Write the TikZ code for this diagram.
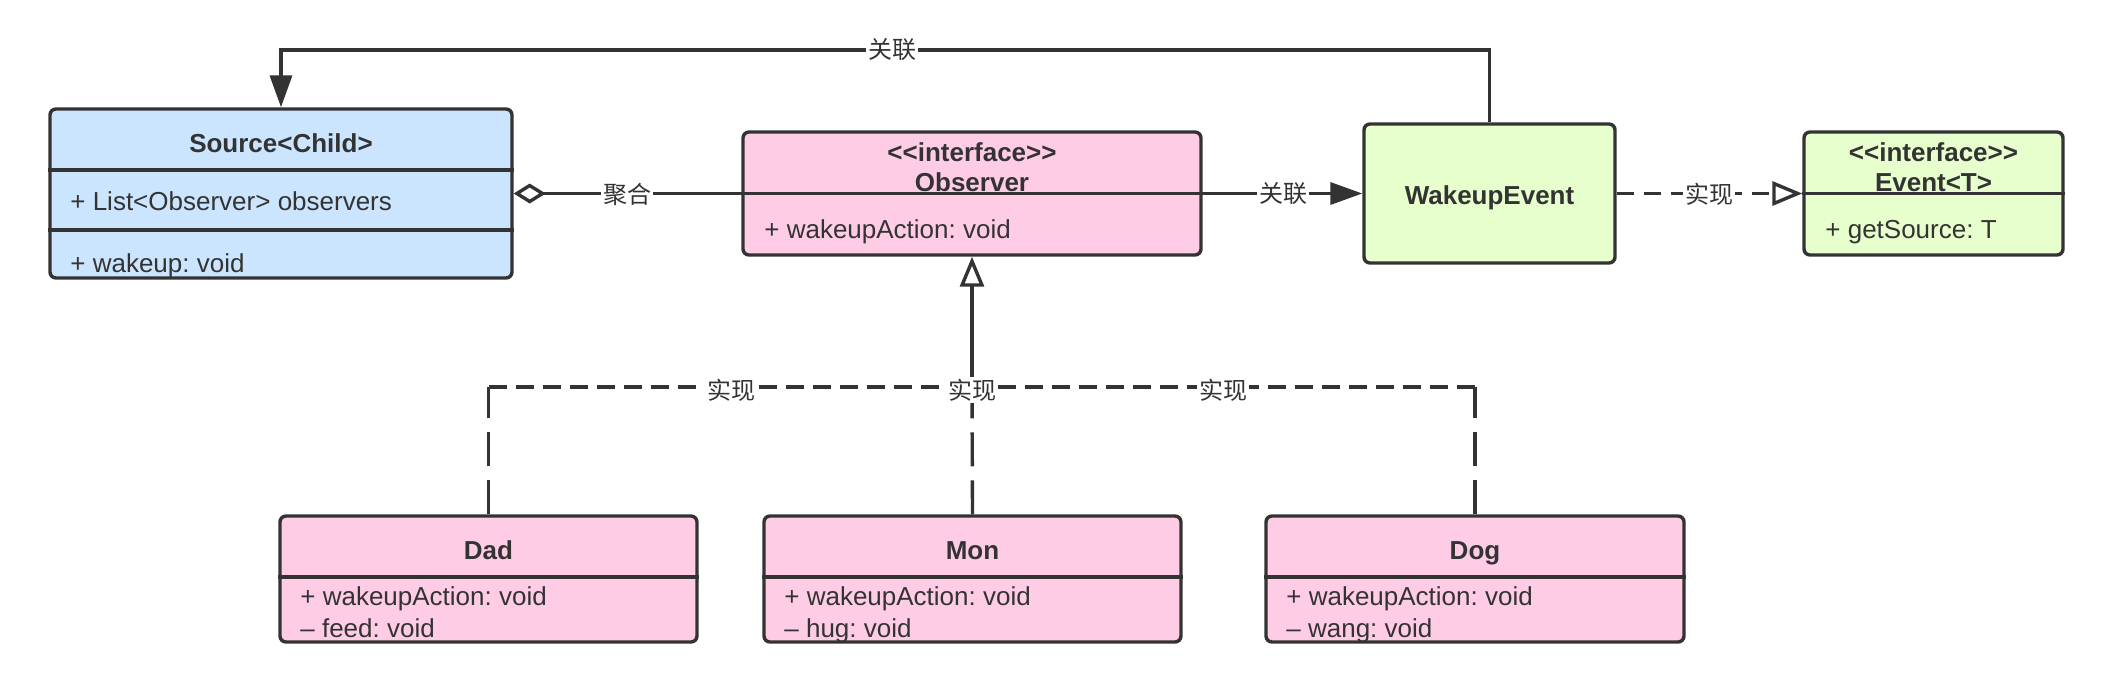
\documentclass[tikz,border=0pt]{standalone}
\usepackage{fontspec}
\setmainfont{Liberation Sans}
\newfontfamily\cjk{Noto Sans CJK SC}
\usetikzlibrary{arrows.meta}
\definecolor{ln}{HTML}{333333}
\definecolor{cblue}{HTML}{CCE5FF}
\definecolor{cpink}{HTML}{FFCCE6}
\definecolor{cgreen}{HTML}{E6FFCC}
\frenchspacing
\begin{document}
\begin{tikzpicture}[x=0.5pt,y=-0.5pt,
  cls/.style={draw=ln, line width=1.7pt, rounded corners=3pt, inner sep=0pt},
  tt/.style={font=\fontsize{13}{15.6}\selectfont\bfseries, text=ln, inner sep=0pt, text height=9.4pt, text depth=2.7pt},
  attr/.style={font=\fontsize{13}{15.6}\selectfont, text=ln, inner sep=0pt, anchor=west, text height=9.4pt, text depth=2.7pt},
  lbl/.style={font=\cjk\fontsize{12}{14}\selectfont, text=ln, fill=white, inner sep=1pt},
  conn/.style={draw=ln, line width=1.7pt},
  dashv/.style={conn, dash pattern=on 17pt off 7pt},
  dashh/.style={conn, dash pattern=on 9pt off 4.5pt},
  dashe/.style={conn, dash pattern=on 8.5pt off 5pt},
  filltri/.style={-{Triangle[length=16pt,width=11pt]}},
  opentri/.style={-{Triangle[open,length=15pt,width=12pt,fill=white]}},
  diam/.style={{Diamond[open,length=16pt,width=10pt,fill=white]}-}
]
\useasboundingbox (0,0) rectangle (2114,692);

% Source<Child>
\node[cls, fill=cblue, minimum width=231pt, minimum height=84.5pt] (src) at (281,193.5) {};
\draw[conn] (src.west |- 0,170) -- (src.east |- 0,170);
\draw[conn] (src.west |- 0,230) -- (src.east |- 0,230);
\node[tt] (srcT) at (281,146) {Source<Child>};
\node[attr] (srcA) at (70,204) {+ List<Observer> observers};
\node[attr] (srcM) at (70,266) {+ wakeup: void};

% Observer
\node[cls, fill=cpink, minimum width=229pt, minimum height=61.5pt] (obs) at (972,193.5) {};
\draw[conn] (obs.west) -- (obs.east);
\node[tt] (obsS) at (972,155) {{<}{<}interface{>}{>}};
\node[tt] (obsT) at (972,185) {Observer};
\node[attr] (obsA) at (764,232) {+ wakeupAction: void};

% WakeupEvent
\node[cls, fill=cgreen, minimum width=125.5pt, minimum height=69.5pt] (wev) at (1489.5,193.5) {};
\node[tt] (wevT) at (1489.5,198) {WakeupEvent};

% Event<T>
\node[cls, fill=cgreen, minimum width=129.5pt, minimum height=61.5pt] (evt) at (1933.5,193.5) {};
\draw[conn] (evt.west) -- (evt.east);
\node[tt] (evtS) at (1933.5,155) {{<}{<}interface{>}{>}};
\node[tt] (evtT) at (1933.5,185) {Event<T>};
\node[attr] (evtA) at (1825,232) {+ getSource: T};

% Dad, Mon, Dog
\node[cls, fill=cpink, minimum width=208.5pt, minimum height=63pt] (dad) at (488.5,579) {};
\draw[conn] (dad.west |- 0,577) -- (dad.east |- 0,577);
\node[tt] (dadT) at (488.5,553) {Dad};
\node[attr] (dadA) at (300,599) {+ wakeupAction: void};
\node[attr] (dadM) at (300,631) {\textendash\ feed: void};

\node[cls, fill=cpink, minimum width=208.5pt, minimum height=63pt] (mon) at (972.5,579) {};
\draw[conn] (mon.west |- 0,577) -- (mon.east |- 0,577);
\node[tt] (monT) at (972.5,553) {Mon};
\node[attr] (monA) at (784,599) {+ wakeupAction: void};
\node[attr] (monM) at (784,631) {\textendash\ hug: void};

\node[cls, fill=cpink, minimum width=209pt, minimum height=63pt] (dog) at (1475,579) {};
\draw[conn] (dog.west |- 0,577) -- (dog.east |- 0,577);
\node[tt] (dogT) at (1475,553) {Dog};
\node[attr] (dogA) at (1286,599) {+ wakeupAction: void};
\node[attr] (dogM) at (1286,631) {\textendash\ wang: void};

% top association WakeupEvent -> Source
\coordinate (tr) at (wev.north |- 0,50);
\coordinate (tl) at (src.north |- 0,50);
\draw[conn, filltri] (wev.north) -- (tr) -- (tl) -- (src.north);
\node[lbl] (l1) at (892,50) {关联};

% aggregation
\draw[conn, diam] (src.east) -- (obs.west);
\node[lbl] (l2) at (627,194) {聚合};

% association Observer -> WakeupEvent
\draw[conn, filltri] (obs.east) -- (wev.west);
\node[lbl] (l3) at (1283,194) {关联};

% realization WakeupEvent -> Event
\draw[dashe, opentri] (wev.east) -- (evt.west);
\node[lbl] (l4) at (1709,194) {实现};

% realizations children -> Observer
\coordinate (j) at (972,387);
\draw[dashv] (dad.north) -- (dad.north |- j);
\draw[dashh] (dad.north |- j) -- (j);
\draw[dashv] (dog.north) -- (dog.north |- j);
\draw[dashh] (dog.north |- j) -- (j);
\draw[dashv] (mon.north) -- (j);
\draw[conn, opentri] (j) -- (obs.south);
\node[lbl] (l5) at (731,390) {实现};
\node[lbl] (l6) at (972,390) {实现};
\node[lbl] (l7) at (1223,390) {实现};
\end{tikzpicture}
\end{document}
